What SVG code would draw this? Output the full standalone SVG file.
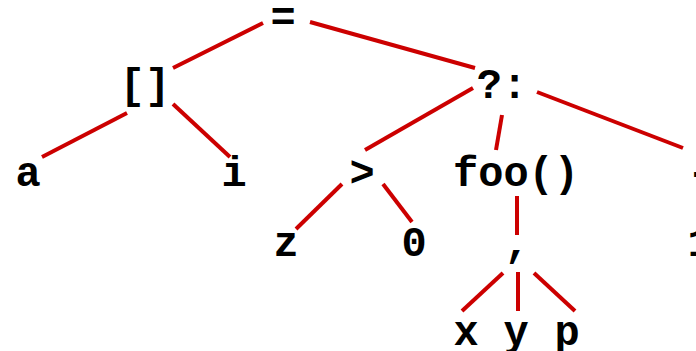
<svg xmlns="http://www.w3.org/2000/svg" width="696" height="351" viewBox="0 0 696 351">
<style>
.n text{font-family:"Liberation Mono","Courier New",monospace;font-weight:bold;font-size:42px;fill:#000;text-anchor:middle}
#edges line{stroke:#cc0000;stroke-width:4;stroke-linecap:butt}
</style>
<rect width="696" height="351" fill="#fff"/>
<g id="edges">
<line x1="263" y1="23" x2="173" y2="68"/>
<line x1="310" y1="22" x2="475" y2="68"/>
<line x1="127" y1="113" x2="42" y2="157"/>
<line x1="173" y1="104" x2="230" y2="157"/>
<line x1="473" y1="88" x2="365" y2="150"/>
<line x1="502" y1="115" x2="496" y2="150"/>
<line x1="537" y1="92" x2="683" y2="148"/>
<line x1="342" y1="184" x2="296" y2="229"/>
<line x1="383" y1="184" x2="412" y2="222"/>
<line x1="517" y1="196" x2="517" y2="235"/>
<line x1="503" y1="273" x2="462" y2="311"/>
<line x1="518" y1="272" x2="518" y2="311"/>
<line x1="534" y1="273" x2="575" y2="311"/>
</g>
<g id="n-assign" class="n"><text x="283" y="31">=</text></g>
<g id="n-index" class="n"><text x="145" y="98">[]</text></g>
<g id="n-cond" class="n"><text x="502" y="98">?:</text></g>
<g id="n-a" class="n"><text x="28" y="186">a</text></g>
<g id="n-i" class="n"><text x="234" y="186">i</text></g>
<g id="n-gt" class="n"><text x="362" y="186">&gt;</text></g>
<g id="n-foo" class="n"><text x="516" y="186">foo()</text></g>
<g id="n-neg" class="n"><text x="700" y="186">-</text></g>
<g id="n-z" class="n"><text x="286" y="256">z</text></g>
<g id="n-0" class="n"><text x="414" y="256">0</text></g>
<g id="n-comma" class="n"><text x="517" y="256">,</text></g>
<g id="n-1" class="n"><text x="700" y="256">1</text></g>
<g id="n-x" class="n"><text x="466" y="345">x</text></g>
<g id="n-y" class="n"><text x="516" y="345">y</text></g>
<g id="n-p" class="n"><text x="567" y="345">p</text></g>
</svg>
